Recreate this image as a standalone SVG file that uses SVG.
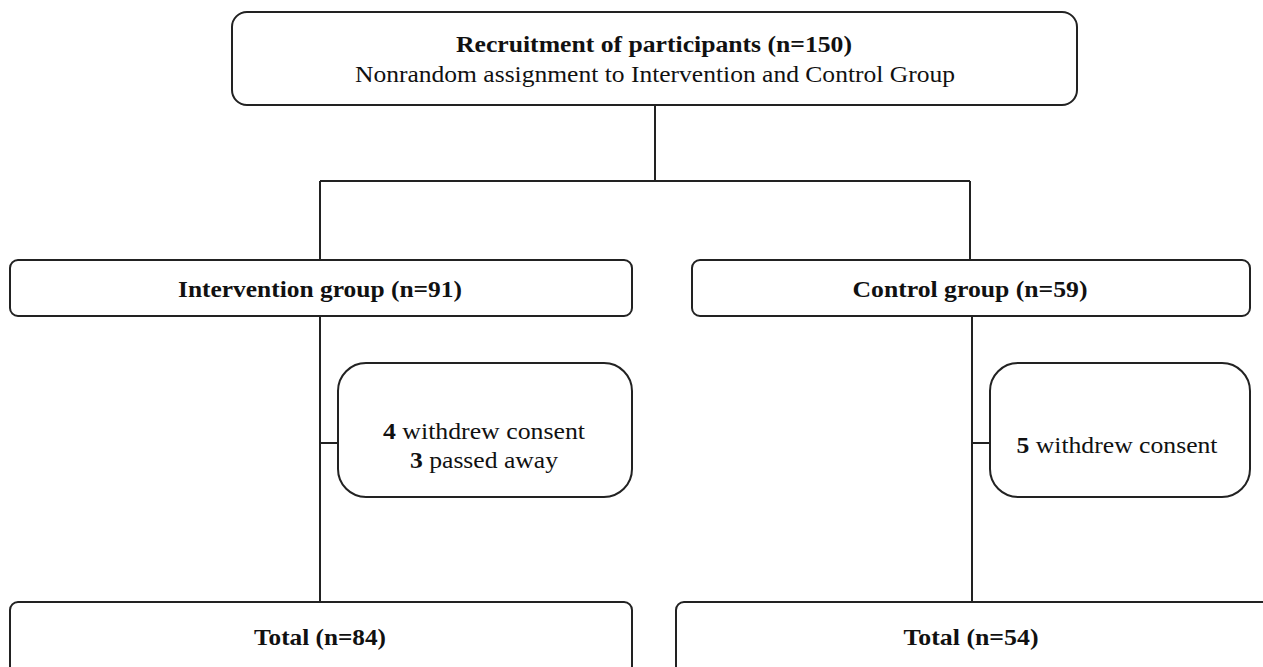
<svg xmlns="http://www.w3.org/2000/svg" width="1263" height="667" viewBox="0 0 1263 667">
<style>
.box{fill:#fff;stroke:#222;stroke-width:2}
.ln{fill:none;stroke:#222;stroke-width:2}
text{font-family:"Liberation Serif","Times New Roman",serif;fill:#111;text-anchor:middle;font-size:23px}
.b{font-weight:bold}
</style>
<rect width="1263" height="667" fill="#fff"/>
<g id="connectors">
<path class="ln" d="M655 105V181M320 181H970M320 181V262M970 181V260"/>
<path class="ln" d="M320 316V602M320 443H338"/>
<path class="ln" d="M972 316V602M972 443H990"/>
</g>
<g id="recruitment">
<rect class="box" x="232" y="12" width="845" height="93" rx="15"/>
<text class="b" x="654" y="52" textLength="396" lengthAdjust="spacingAndGlyphs">Recruitment of participants (n=150)</text>
<text x="655" y="82" textLength="600" lengthAdjust="spacingAndGlyphs">Nonrandom assignment to Intervention and Control Group</text>
</g>
<g id="intervention">
<rect class="box" x="10" y="260" width="622" height="56" rx="8"/>
<text class="b" x="320" y="297" textLength="284" lengthAdjust="spacingAndGlyphs">Intervention group (n=91)</text>
</g>
<g id="control">
<rect class="box" x="692" y="260" width="558" height="56" rx="8"/>
<text class="b" x="970" y="297" textLength="235" lengthAdjust="spacingAndGlyphs">Control group (n=59)</text>
</g>
<g id="int-loss">
<rect class="box" x="338" y="363" width="294" height="134" rx="28"/>
<text x="484" y="439" textLength="202" lengthAdjust="spacingAndGlyphs"><tspan class="b">4</tspan> withdrew consent</text>
<text x="484" y="468" textLength="148" lengthAdjust="spacingAndGlyphs"><tspan class="b">3</tspan> passed away</text>
</g>
<g id="ctl-loss">
<rect class="box" x="990" y="363" width="260" height="134" rx="28"/>
<text x="1117" y="453" textLength="201" lengthAdjust="spacingAndGlyphs"><tspan class="b">5</tspan> withdrew consent</text>
</g>
<g id="int-total">
<rect class="box" x="10" y="602" width="622" height="72" rx="8"/>
<text class="b" x="320" y="645" textLength="132" lengthAdjust="spacingAndGlyphs">Total (n=84)</text>
</g>
<g id="ctl-total">
<rect class="box" x="676" y="602" width="600" height="72" rx="8"/>
<text class="b" x="971" y="645" textLength="135" lengthAdjust="spacingAndGlyphs">Total (n=54)</text>
</g>
</svg>
